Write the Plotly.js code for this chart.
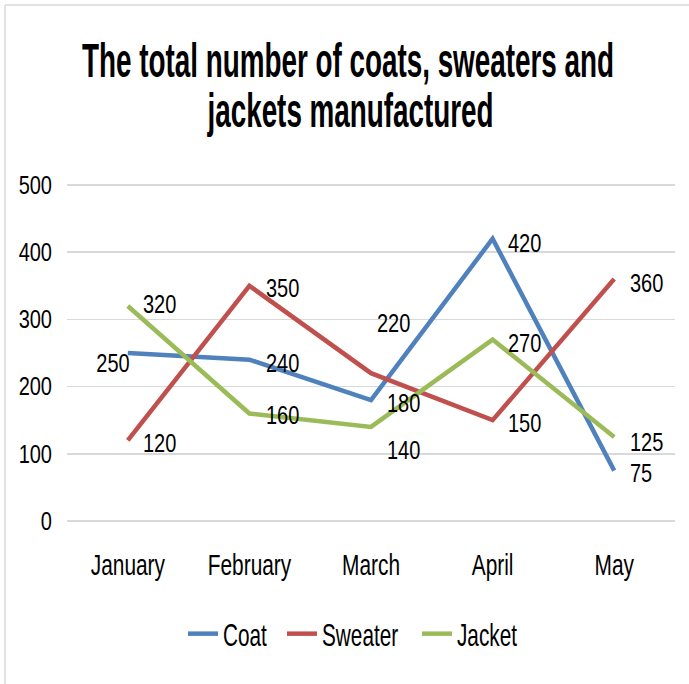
<!DOCTYPE html>
<html>
<head>
<meta charset="utf-8">
<script src="https://cdn.plot.ly/plotly-3.0.1.min.js"></script>
<style>
  html, body { margin: 0; padding: 0; background: #fff; overflow: hidden; }
  #chart { width: 689px; height: 684px; }
</style>
</head>
<body>
<div id="chart"></div>
<script>
// ---- data ----
const months = ["January", "February", "March", "April", "May"];
const coat = [250, 240, 180, 420, 75];
const sweater = [120, 350, 220, 150, 360];
const jacket = [320, 160, 140, 270, 125];
const seriesNames = ["Coat", "Sweater", "Jacket"];
const yTicks = [0, 100, 200, 300, 400, 500];
const titleLine1 = "The total number of coats, sweaters and";
const titleLine2 = "jackets manufactured";

// ---- styling ----
const FONT = '"Liberation Sans", Arial, sans-serif';
const colors = ["#4F81BD", "#C0504D", "#9BBB59"];
const allSeries = [coat, sweater, jacket];

const PL = 67, PR = 675, PT = 184, PB = 522;
const px2x = p => (p - PL) / (PR - PL);
const px2y = p => (PB - p) / (PB - PT);

const labelPlace = [
  [["right", 4, -10], ["left", 15, -3], ["left", 14, -3], ["left", 13, -4], ["left", 14, -2]],
  [["left", 13, -3], ["left", 15, -2], ["left", 4, 50], ["left", 13, -3], ["left", 14, -4]],
  [["left", 13, 2], ["left", 15, -2], ["left", 14, -23], ["left", 13, -3], ["left", 14, -5]]
];
const legendLeftPx = [183, 282, 417];
const legendIds = ["legend", "legend2", "legend3"];

const traces = allSeries.map((vals, i) => ({
  type: "scatter", mode: "lines", x: months, y: vals,
  name: seriesNames[i], legend: legendIds[i],
  line: { color: colors[i], width: 4.5 }, hoverinfo: "skip"
}));

const annotations = [];
allSeries.forEach((vals, i) => {
  vals.forEach((v, j) => {
    const p = labelPlace[i][j];
    annotations.push({
      x: months[j], y: v, xref: "x", yref: "y",
      text: String(v), showarrow: false,
      xanchor: p[0], yanchor: "middle", xshift: p[1], yshift: p[2],
      font: { family: FONT, size: 25, color: "#000" }, _squash: 0.8
    });
  });
});
annotations.push({
  x: px2x(350), xref: "paper", y: px2y(111), yref: "paper",
  text: titleLine2, showarrow: false, xanchor: "center", yanchor: "middle",
  font: { family: FONT, size: 48, color: "#000", weight: "bold" }, _squash: 0.58
});

const legendBase = (i) => ({
  orientation: "h", x: px2x(legendLeftPx[i]), xanchor: "left",
  y: px2y(634), yanchor: "middle",
  font: { family: FONT, size: 31, color: "#000" },
  bgcolor: "rgba(0,0,0,0)", borderwidth: 0, itemwidth: 30
});

const layout = {
  width: 689, height: 684,
  margin: { l: PL, r: 689 - PR, t: PT, b: 684 - PB, pad: 0 },
  paper_bgcolor: "#fff", plot_bgcolor: "#fff",
  font: { family: FONT, size: 25, color: "#000" },
  title: {
    text: titleLine1,
    font: { family: FONT, size: 48, color: "#000", weight: "bold" },
    x: 348 / 689, xref: "container", xanchor: "center",
    y: 1 - 60 / 684, yref: "container", yanchor: "middle"
  },
  showlegend: true,
  legend: legendBase(0), legend2: legendBase(1), legend3: legendBase(2),
  xaxis: {
    type: "category", range: [-0.5, 4.5],
    showgrid: false, zeroline: false, showline: false,
    ticks: "", ticklabelstandoff: 23,
    tickfont: { family: FONT, size: 29, color: "#000" }, fixedrange: true
  },
  yaxis: {
    range: [-1.5, 501.5], tickvals: yTicks, ticktext: yTicks.map(String),
    showgrid: true, gridcolor: "#d9d9d9", gridwidth: 1.5,
    zeroline: false, showline: false, ticks: "", ticklabelstandoff: 14,
    tickfont: { family: FONT, size: 25, color: "#000" }, fixedrange: true
  },
  annotations: annotations.map(a => { const c = Object.assign({}, a); delete c._squash; return c; }),
  shapes: [
    { type: "line", xref: "paper", yref: "paper", x0: px2x(5), x1: px2x(700), y0: px2y(5), y1: px2y(5),
      line: { color: "#d9d9d9", width: 1.5 } },
    { type: "line", xref: "paper", yref: "paper", x0: px2x(5), x1: px2x(5), y0: px2y(5), y1: px2y(700),
      line: { color: "#d9d9d9", width: 1.5 } }
  ]
};

// Horizontal condensing of text (the reference uses a tall, narrow face)
function squashEl(el, s, mode) {
  if (!el) return;
  const cur = el.getAttribute("transform") || "";
  if (el.__sq && el.__sq === cur) return;
  const bb = el.getBBox();
  const ox = mode === "start" ? bb.x : mode === "end" ? bb.x + bb.width : bb.x + bb.width / 2;
  const t = (cur + " translate(" + ox + ",0) scale(" + s + ",1) translate(" + (-ox) + ",0)").trim();
  el.setAttribute("transform", t);
  el.__sq = t;
}

function condenseAll(gd) {
  gd.querySelectorAll(".gtitle").forEach(el => squashEl(el, 0.58, "middle"));
  gd.querySelectorAll(".xtick text").forEach(el => squashEl(el, 0.72, "middle"));
  gd.querySelectorAll(".ytick text").forEach(el => squashEl(el, 0.8, "end"));
  gd.querySelectorAll(".legendtext, .legend2text, .legend3text").forEach(el => squashEl(el, 0.67, "start"));
  gd.querySelectorAll(".annotation").forEach(g => {
    const idx = +g.getAttribute("data-index");
    const a = annotations[idx];
    if (!a) return;
    const mode = a.xanchor === "left" ? "start" : a.xanchor === "right" ? "end" : "middle";
    squashEl(g.querySelector(".annotation-text"), a._squash, mode);
  });
}

Plotly.newPlot("chart", traces, layout, { displayModeBar: false, staticPlot: true }).then(gd => {
  condenseAll(gd);
  gd.on("plotly_afterplot", () => condenseAll(gd));
  setTimeout(() => condenseAll(gd), 0);
});
</script>
</body>
</html>
